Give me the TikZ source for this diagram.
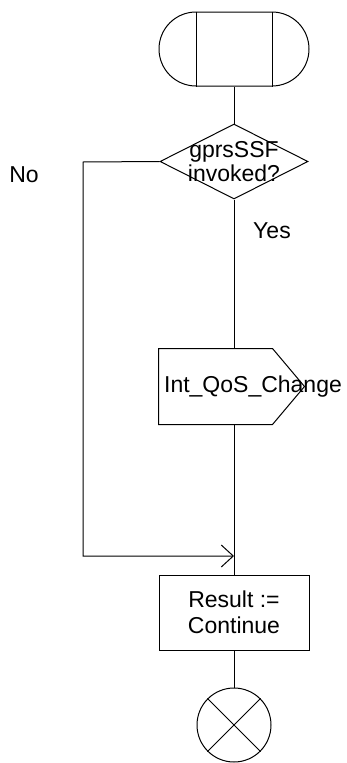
\documentclass[tikz,border=0pt]{standalone}
\usepackage{fontspec}
\setmainfont{Liberation Sans}
\usetikzlibrary{shapes.geometric,shapes.misc,arrows.meta}
\begin{document}
\begin{tikzpicture}[x=1pt,y=-1pt,
  line width=1pt,
  every node/.style={font=\fontsize{23}{25}\selectfont, inner sep=0pt},
  flow/.style={draw=black},
  box/.style={draw, rectangle, minimum width=150pt, minimum height=75pt, align=center},
  lbl/.style={align=center}]
\useasboundingbox (0,0) rectangle (347,763);
% start symbol
\node (start) [draw, rounded rectangle, minimum width=150pt, minimum height=74pt] at (234,49) {};
\draw ([xshift=-38pt]start.north) -- ([xshift=-38pt]start.south);
\draw ([xshift=38pt]start.north) -- ([xshift=38pt]start.south);
% decision
\node (dec) [draw, diamond, minimum width=148pt, minimum height=75pt] at (234,161.5) {};
\node (dectext) [lbl, font=\fontsize{23}{24}\selectfont] at (234,161.5) {gprsSSF\\invoked?};
% output signal
\node (sig) [rectangle, minimum width=145pt, minimum height=75pt] at (231.5,386.5) {};
\draw (sig.north west) -- ([xshift=-32pt]sig.north east) -- (sig.east) -- ([xshift=-32pt]sig.south east) -- (sig.south west) -- cycle;
\node (sigtext) at (253,386.5) {Int\_QoS\_Change};
% task box
\node (task) [box, font=\fontsize{23}{26}\selectfont] at (234,612.5) {Result :=\\Continue};
% end
\node (stop) [draw, circle, minimum size=74pt] at (234,725) {};
\draw (stop.north west) -- (stop.south east);
\draw (stop.north east) -- (stop.south west);
% labels
\node (no) at (24,175) {No};
\node (yes) at (272,231) {Yes};
% connectors
\coordinate (corner1) at (83,162);
\coordinate (join) at (234,556);
\draw (start.south) -- (dec.north);
\draw (dec.south) -- (dec.south |- sig.north);
\draw (dec.south |- sig.south) -- (task.north);
\draw (task.south) -- (stop.north);
\draw[-{Straight Barb[length=12pt,width=22pt]}] (dec.west) -- (corner1) |- (join);
\end{tikzpicture}
\end{document}
